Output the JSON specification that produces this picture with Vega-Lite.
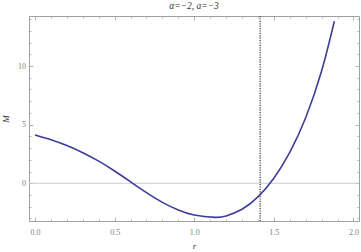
{
  "$schema": "https://vega.github.io/schema/vega-lite/v6.json",
  "width": 330,
  "height": 205,
  "autosize": "none",
  "padding": {"left": 29, "top": 16, "right": 2, "bottom": 31},
  "background": "white",
  "config": {
    "view": {"stroke": "#a0a0a0", "strokeWidth": 1},
    "font": "Liberation Serif",
    "axis": {"grid": false, "domain": false, "tickColor": "#a0a0a0", "tickWidth": 0.8, "labelColor": "#808080", "labelFont": "Liberation Serif", "labelFontSize": 8, "titleFont": "Liberation Serif", "titleFontStyle": "italic", "titleFontWeight": "normal", "titleFontSize": 9, "titleColor": "#333333"}
  },
  "title": {"text": "α=−2, a=−3", "font": "Liberation Serif", "fontSize": 9.5, "fontWeight": "normal", "fontStyle": "italic", "color": "#333333", "anchor": "middle", "frame": "group", "baseline": "alphabetic", "offset": -3},
  "data": {"values": [{"z": 0}]},
  "datasets": {
    "curve": [
      {"r": 0.0, "M": 4.12},
      {"r": 0.1, "M": 3.72},
      {"r": 0.2, "M": 3.22},
      {"r": 0.3, "M": 2.61},
      {"r": 0.4, "M": 1.885},
      {"r": 0.5, "M": 1.045},
      {"r": 0.6, "M": 0.12},
      {"r": 0.7, "M": -0.805},
      {"r": 0.8, "M": -1.635},
      {"r": 0.9, "M": -2.29},
      {"r": 1.0, "M": -2.715},
      {"r": 1.13, "M": -2.91},
      {"r": 1.2, "M": -2.79},
      {"r": 1.3, "M": -2.215},
      {"r": 1.4, "M": -1.165},
      {"r": 1.5, "M": 0.435},
      {"r": 1.6, "M": 2.635},
      {"r": 1.7, "M": 5.585},
      {"r": 1.8, "M": 9.585},
      {"r": 1.88, "M": 13.825}
    ]
  },
  "resolve": {"axis": {"x": "independent", "y": "independent"}},
  "layer": [
    {
      "mark": {"type": "rule", "color": "#cccccc", "strokeWidth": 1},
      "encoding": {
        "y": {"datum": 0, "type": "quantitative", "scale": {"domain": [-3.22, 14.27], "nice": false, "zero": false},
          "axis": {"orient": "right", "title": null, "labels": false, "values": [-3,-2,-1,0,1,2,3,4,5,6,7,8,9,10,11,12,13,14],
            "tickSize": {"condition": {"test": "datum.value % 5 === 0", "value": -4}, "value": -2}}}
      }
    },
    {
      "mark": {"type": "rule", "color": "#555555", "strokeWidth": 1.4, "strokeDash": [1.2, 1.2]},
      "encoding": {
        "x": {"datum": 1.41421, "type": "quantitative", "scale": {"domain": [-0.038, 2.035], "nice": false, "zero": false},
          "axis": {"orient": "top", "title": null, "labels": false, "values": [0,0.1,0.2,0.3,0.4,0.5,0.6,0.7,0.8,0.9,1,1.1,1.2,1.3,1.4,1.5,1.6,1.7,1.8,1.9,2],
            "tickSize": {"condition": {"test": "datum.value % 0.5 === 0", "value": -4}, "value": -2}}}
      }
    },
    {
      "data": {"name": "curve"},
      "mark": {"type": "line", "color": "#3d3d99", "strokeWidth": 1.6, "interpolate": "natural"},
      "encoding": {
        "x": {"field": "r", "type": "quantitative", "scale": {"domain": [-0.038, 2.035], "nice": false, "zero": false},
          "axis": {"orient": "bottom", "title": "r", "values": [0,0.1,0.2,0.3,0.4,0.5,0.6,0.7,0.8,0.9,1,1.1,1.2,1.3,1.4,1.5,1.6,1.7,1.8,1.9,2],
            "labelExpr": "datum.value % 0.5 === 0 ? format(datum.value, '.1f') : ''",
            "tickSize": {"condition": {"test": "datum.value % 0.5 === 0", "value": -4}, "value": -2},
            "labelPadding": 11, "labelBaseline": "top",
            "titleX": 165, "titleY": 27, "titleBaseline": "alphabetic", "titleAlign": "center"}},
        "y": {"field": "M", "type": "quantitative", "scale": {"domain": [-3.22, 14.27], "nice": false, "zero": false},
          "axis": {"orient": "left", "title": "M", "values": [-3,-2,-1,0,1,2,3,4,5,6,7,8,9,10,11,12,13,14],
            "labelExpr": "datum.value % 5 === 0 ? format(datum.value, 'd') : ''",
            "tickSize": {"condition": {"test": "datum.value % 5 === 0", "value": -4}, "value": -2},
            "labelPadding": 7.5,
            "titleX": -23.5, "titleY": 102.5, "titleAngle": -90, "titleBaseline": "middle", "titleAlign": "center"}}
      }
    }
  ]
}
